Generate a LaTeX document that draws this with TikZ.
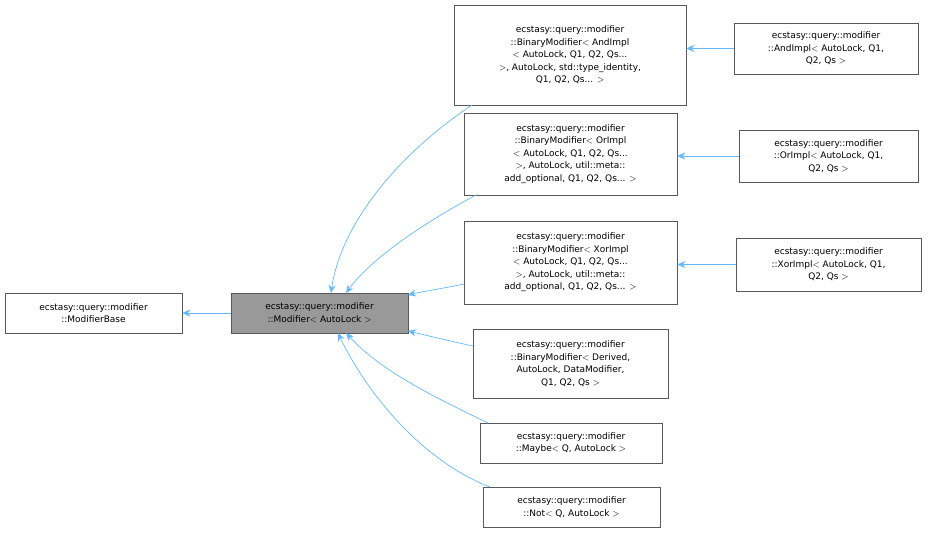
\documentclass[tikz,border=0pt]{standalone}
\usepackage{fontspec}
\setmainfont{DejaVu Sans}
\usetikzlibrary{arrows.meta}
\begin{document}
\begin{tikzpicture}[x=1pt,y=-1pt,
  box/.style={draw=black!65,line width=0.6pt,inner sep=0pt,align=center,font=\fontsize{9}{12.5}\selectfont},
  edge/.style={draw=blue!35!cyan!60!white,color={rgb,255:red,99;green,184;blue,255},line width=0.7pt,-{Stealth[length=8pt,width=7pt]}}]
\useasboundingbox (0,0) rectangle (929,533);
\newcommand{\bx}[6]{\node[box,minimum width=#4-#2,minimum height=#5-#3,#6] (#1) at ({(#2+#4)/2},{(#3+#5)/2}) {};}
\node[box,minimum width=177pt,minimum height=40pt] (base) at (93.5,313) {ecstasy::query::modifier\\::ModifierBase};
\node[box,fill=black!40,minimum width=177pt,minimum height=40pt] (mod) at (319.5,313) {ecstasy::query::modifier\\::Modifier$<$ AutoLock $>$};
\node[box,minimum width=232pt,minimum height=100pt] (and) at (570,55) {ecstasy::query::modifier\\::BinaryModifier$<$ AndImpl\\$<$ AutoLock, Q1, Q2, Qs...\\ $>$, AutoLock, std::type\_identity,\\ Q1, Q2, Qs... $>$};
\node[box,minimum width=184pt,minimum height=51pt] (andi) at (826,48.5) {ecstasy::query::modifier\\::AndImpl$<$ AutoLock, Q1,\\ Q2, Qs $>$};
\node[box,minimum width=213pt,minimum height=82pt] (or) at (570.5,154) {ecstasy::query::modifier\\::BinaryModifier$<$ OrImpl\\$<$ AutoLock, Q1, Q2, Qs...\\ $>$, AutoLock, util::meta::\\add\_optional, Q1, Q2, Qs... $>$};
\node[box,minimum width=179pt,minimum height=52pt] (ori) at (828.5,156) {ecstasy::query::modifier\\::OrImpl$<$ AutoLock, Q1,\\ Q2, Qs $>$};
\node[box,minimum width=213pt,minimum height=83pt] (xor) at (570.5,262.5) {ecstasy::query::modifier\\::BinaryModifier$<$ XorImpl\\$<$ AutoLock, Q1, Q2, Qs...\\ $>$, AutoLock, util::meta::\\add\_optional, Q1, Q2, Qs... $>$};
\node[box,minimum width=185pt,minimum height=53pt] (xori) at (828.5,264.5) {ecstasy::query::modifier\\::XorImpl$<$ AutoLock, Q1,\\ Q2, Qs $>$};
\node[box,minimum width=195pt,minimum height=69pt] (der) at (570.5,363.5) {ecstasy::query::modifier\\::BinaryModifier$<$ Derived,\\ AutoLock, DataModifier,\\ Q1, Q2, Qs $>$};
\node[box,minimum width=182pt,minimum height=40pt] (may) at (571,443) {ecstasy::query::modifier\\::Maybe$<$ Q, AutoLock $>$};
\node[box,minimum width=177pt,minimum height=40pt] (not) at (571.5,507) {ecstasy::query::modifier\\::Not$<$ Q, AutoLock $>$};
\coordinate (t1) at (331,293);
\coordinate (t2) at (346,293);
\coordinate (t3) at (408,295);
\coordinate (t4) at (408,331);
\coordinate (t5) at (346,333);
\coordinate (t6) at (338,333);
\draw[edge] (mod.west) -- (base.east);
\draw[edge] (andi.west) -- (and.east |- andi.west);
\draw[edge] (ori.west) -- (or.east |- ori.west);
\draw[edge] (xori.west) -- (xor.east |- xori.west);
\draw[edge] (472,105) .. controls (390,160) and (340,230) .. (t1);
\draw[edge] (476,195) .. controls (420,225) and (370,260) .. (t2);
\draw[edge] (464,284) .. controls (440,289) and (420,292) .. (t3);
\draw[edge] (473,346) .. controls (450,341) and (425,335) .. (t4);
\draw[edge] (488,423) .. controls (430,395) and (380,370) .. (t5);
\draw[edge] (490,487) .. controls (420,460) and (365,390) .. (t6);
\end{tikzpicture}
\end{document}
